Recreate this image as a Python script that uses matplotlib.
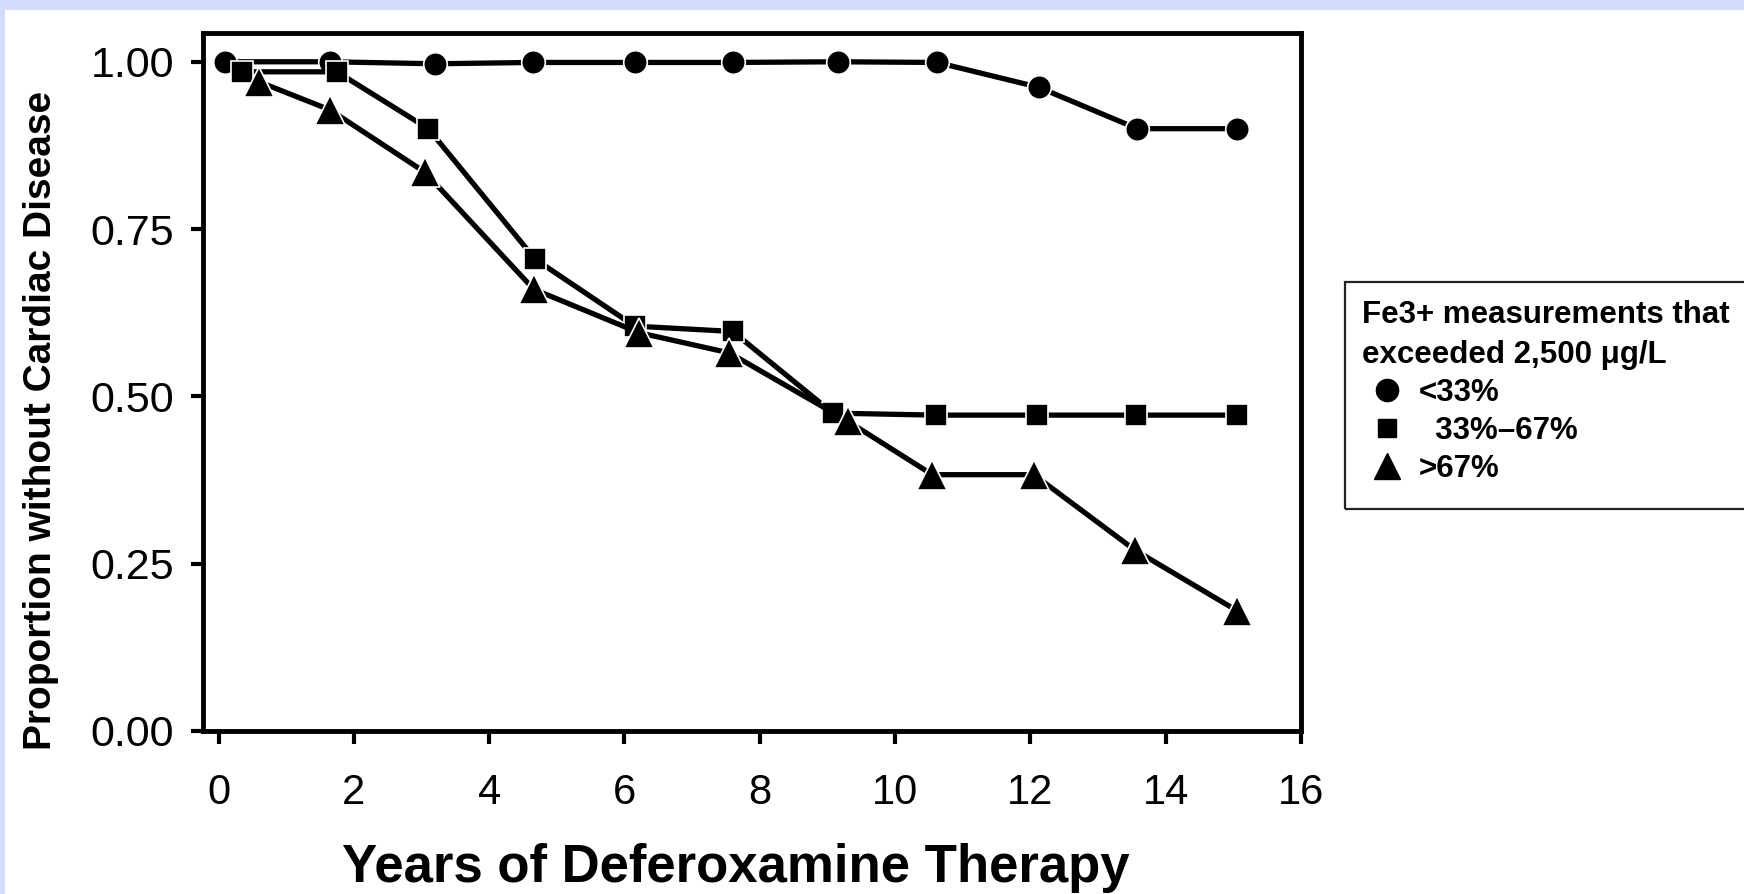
import matplotlib
matplotlib.use("Agg")
import matplotlib.pyplot as plt
from matplotlib.lines import Line2D
from matplotlib.patches import Rectangle

plt.rcParams['font.family'] = ['Liberation Sans', 'DejaVu Sans']

# data
years_lt33 = [0.1, 1.65, 3.2, 4.65, 6.15, 7.6, 9.15, 10.62, 12.12, 13.58, 15.06]
prop_lt33 = [1.0, 1.0, 0.997, 0.999, 0.999, 0.999, 1.0, 0.999, 0.962, 0.90, 0.90]

years_mid = [0.35, 1.75, 3.1, 4.68, 6.15, 7.6, 9.08, 10.6, 12.1, 13.56, 15.05]
prop_mid = [0.985, 0.985, 0.90, 0.705, 0.605, 0.597, 0.475, 0.472, 0.472, 0.472, 0.472]

years_gt67 = [0.6, 1.65, 3.05, 4.66, 6.22, 7.55, 9.3, 10.55, 12.05, 13.55, 15.05]
prop_gt67 = [0.97, 0.928, 0.835, 0.66, 0.595, 0.565, 0.463, 0.383, 0.383, 0.27, 0.18]

labels = ["<33%", "  33%\u201367%", ">67%"]
legend_title = "Fe3+ measurements that\nexceeded 2,500 \u03bcg/L"
xticks = [0, 2, 4, 6, 8, 10, 12, 14, 16]
yticks = [0.0, 0.25, 0.5, 0.75, 1.0]

W, H = 1744, 894
fig = plt.figure(figsize=(W / 100, H / 100), dpi=100)
fig.patch.set_facecolor('#d4dcfc')
fig.add_artist(Rectangle((5 / W, 0), 1, 1 - 10 / H, transform=fig.transFigure,
                         facecolor='white', edgecolor='none', zorder=-10))

ax = fig.add_axes([203 / W, 1 - 731 / H, (1301 - 203) / W, (731 - 33) / H])
ax.set_xlim(-0.23, 16)
ax.set_ylim(0, 1.043)

style = dict(color='black', lw=3.8, mec='white', mew=1.2, clip_on=False)
ax.plot(years_lt33, prop_lt33, marker='o', ms=17, zorder=3, **style)
ax.plot(years_mid, prop_mid, marker='s', ms=16, zorder=4, **style)
ax.plot(years_gt67, prop_gt67, marker='^', ms=22, zorder=5, **style)

for s in ax.spines.values():
    s.set_linewidth(3.5)
ax.set_xticks(xticks)
ax.set_yticks(yticks)
ax.set_yticklabels([f"{v:.2f}" for v in yticks])
ax.tick_params(direction='out', length=9, width=3)
ax.tick_params(axis='x', pad=21, labelsize=30)
ax.tick_params(axis='y', pad=12, labelsize=31)

fig.text(736 / W, 1 - 882 / H, "Years of Deferoxamine Therapy", ha='center',
         va='baseline', fontsize=38, fontweight='bold')
fig.text(41 / W, 1 - 420 / H, "Proportion without Cardiac Disease", ha='center',
         va='center', rotation=90, fontsize=28, fontweight='bold')

# legend box runs off the right edge
fig.add_artist(Rectangle((1345 / W, 1 - 509 / H), (1760 - 1345) / W, 227 / H,
                         transform=fig.transFigure, fill=False, edgecolor='#222222',
                         lw=1.6, clip_on=False))
handles = [Line2D([], [], color='black', ls='none', marker='o', ms=16),
           Line2D([], [], color='black', ls='none', marker='s', ms=13),
           Line2D([], [], color='black', ls='none', marker='^', ms=19)]
leg = fig.legend(handles, labels, title=legend_title, loc='upper left',
                 bbox_to_anchor=(1362 / W, 1 - 300 / H), frameon=False,
                 prop={'weight': 'bold', 'size': 22.5},
                 title_fontproperties={'weight': 'bold', 'size': 22.5},
                 alignment='left', handlelength=1.6, handletextpad=0.2,
                 labelspacing=0.25, borderpad=0, borderaxespad=0)
leg.get_title().set_linespacing(1.45)

fig.savefig("out.png", dpi=100, facecolor=fig.get_facecolor())
